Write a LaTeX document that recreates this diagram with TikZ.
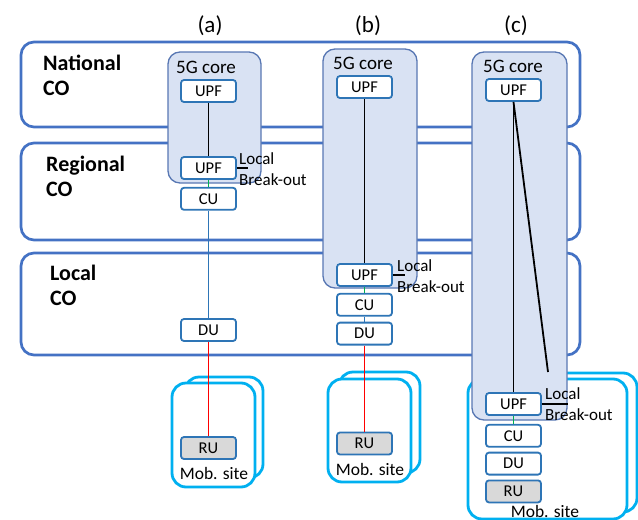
\documentclass[tikz,border=0pt]{standalone}
\usepackage{fontspec}
\setmainfont{Carlito}
\usetikzlibrary{positioning}
\definecolor{coblue}{HTML}{4472C4}
\definecolor{corefill}{HTML}{D9E2F3}
\definecolor{coreedge}{HTML}{5877B3}
\definecolor{nfblue}{HTML}{2E75B6}
\definecolor{sitecyan}{HTML}{00B0F0}
\definecolor{rugray}{HTML}{D9D9D9}
\definecolor{fhgreen}{HTML}{00B050}
\begin{document}
\begin{tikzpicture}[x=1pt, y=-1pt,
      co/.style={draw=coblue, line width=2.7pt, rounded corners=13pt},
      colbl/.style={anchor=west, align=left, inner sep=0pt,
                    font=\fontsize{22}{25}\selectfont\bfseries},
      core/.style={draw=coreedge, fill=corefill, line width=1.3pt, rounded corners=12pt},
      corelbl/.style={anchor=west, inner sep=0pt, font=\fontsize{19}{22}\selectfont},
      nf/.style={draw=nfblue, fill=white, line width=1.8pt, rounded corners=3pt,
                 minimum width=55pt, minimum height=22pt, inner sep=0pt,
                 font=\fontsize{16.5}{19}\selectfont},
      ru/.style={nf, fill=rugray},
      site/.style={draw=sitecyan, fill=white, line width=2.8pt, rounded corners=14pt},
      sitelbl/.style={inner sep=0pt, font=\fontsize{17.5}{20}\selectfont},
      lbo/.style={anchor=west, align=left, inner sep=0pt, font=\fontsize{17}{21}\selectfont},
      ttl/.style={inner sep=0pt, font=\fontsize{23}{26}\selectfont},
      link/.style={line width=1.8pt}]
    \useasboundingbox (0,0) rectangle (638,520);
    % CO levels
    \draw[co] (21,42) rectangle (580,127);
    \draw[co] (21,143) rectangle (580,240);
    \draw[co] (21,253) rectangle (580,355);
    \node[colbl] (natl) at (43,75) {National\\CO};
    \node[colbl] (regl) at (46,176) {Regional\\CO};
    \node[colbl] (locl) at (50,285) {Local\\CO};
    % titles
    \node[ttl] (ta) at (210,26) {(a)};
    \node[ttl] (tb) at (368,26) {(b)};
    \node[ttl] (tc) at (516,26) {(c)};
    % mobile sites
    \draw[site] (185,377) rectangle (263,478);
    \draw[site] (172,383) rectangle (255,487);
    \draw[site] (339,372) rectangle (420,473);
    \draw[site] (328,379) rectangle (411,482);
    \draw[site] (480,373) rectangle (637,512);
    \draw[site] (468,379) rectangle (627,519);
    \node[sitelbl] (siteA) at (214,473) {Mob. site};
    \node[sitelbl] (siteB) at (370,469) {Mob. site};
    \node[sitelbl] (siteC) at (545,511) {Mob. site};
    % 5G core
    \draw[core] (168,52) rectangle (261,183);
    \draw[core] (323,49) rectangle (417,288);
    \draw[core] (472,52) rectangle (567,420);
    \node[corelbl] (coreA) at (176,67) {5G core};
    \node[corelbl] (coreB) at (333,63) {5G core};
    \node[corelbl] (coreC) at (483,66) {5G core};
    % (a)
    \node[nf] (upfAt) at (208.5,91) {UPF};
    \node[nf] (upfAl) at (208.5,168) {UPF};
    \node[nf, below=7pt of upfAl] (cuA) {CU};
    \node[nf] (duA) at (208.5,330) {DU};
    \node[ru] (ruA) at (208.5,448) {RU};
    \coordinate (boA) at (248,168);
    \node[lbo] (lboA) at (239,169) {Local\\Break-out};
    \draw[link] (upfAt) -- (upfAl);
    \draw[link] (upfAl) -- (boA);
    \draw[link, fhgreen] (upfAl) -- (cuA);
    \draw[link, nfblue] (cuA) -- (duA);
    \draw[link, red] (duA) -- (ruA);
    % (b)
    \node[nf] (upfBt) at (364.5,87) {UPF};
    \node[nf] (upfBl) at (364.5,275) {UPF};
    \node[nf, below=6pt of upfBl] (cuB) {CU};
    \node[nf, below=5pt of cuB] (duB) {DU};
    \node[ru] (ruB) at (364.5,443.5) {RU};
    \coordinate (boB) at (405,275);
    \node[lbo] (lboB) at (397,276) {Local\\Break-out};
    \draw[link] (upfBt) -- (upfBl);
    \draw[link] (upfBl) -- (boB);
    \draw[link, fhgreen] (upfBl) -- (cuB);
    \draw[link, nfblue] (cuB) -- (duB);
    \draw[link, red] (duB) -- (ruB);
    % (c)
    \node[nf] (upfCt) at (513.5,90) {UPF};
    \node[nf] (upfCl) at (513.5,404) {UPF};
    \node[nf, below=8pt of upfCl] (cuC) {CU};
    \node[nf, below=4pt of cuC] (duC) {DU};
    \node[ru, below=4pt of duC] (ruC) {RU};
    \coordinate (boC) at (568,404);
    \coordinate (tailC) at (548,372);
    \node[lbo] (lboC) at (545,404) {Local\\Break-out};
    \draw[link] (upfCt) -- (upfCl);
    \draw[link] (upfCt.south) -- (tailC);
    \draw[link] (upfCl) -- (boC);
    \draw[link, fhgreen] (upfCl) -- (cuC);
\end{tikzpicture}
\end{document}
